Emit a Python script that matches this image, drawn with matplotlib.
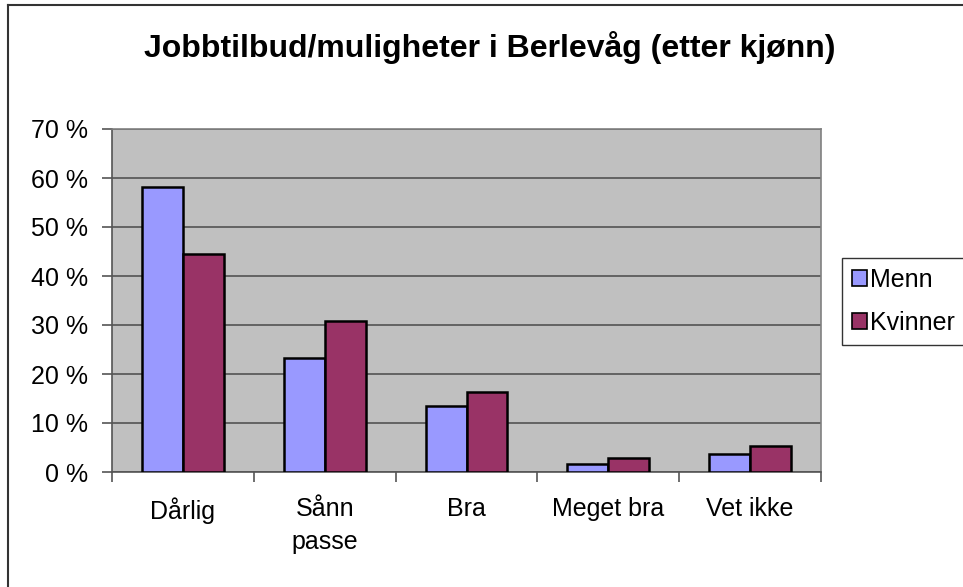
import matplotlib
matplotlib.use("Agg")
import matplotlib.pyplot as plt
from matplotlib.lines import Line2D
from matplotlib.ticker import FuncFormatter
import numpy as np

categories = ["Dårlig", "Sånn\npasse", "Bra", "Meget bra", "Vet ikke"]
menn = [58.2, 23.2, 13.5, 1.6, 3.7]
kvinner = [44.4, 30.9, 16.3, 2.9, 5.3]
series_names = ["Menn", "Kvinner"]
title = "Jobbtilbud/muligheter i Berlevåg (etter kjønn)"

plt.rcParams['font.family'] = ['Liberation Sans', 'DejaVu Sans']

W, H = 963, 587
fig = plt.figure(figsize=(W / 100, H / 100), dpi=100)
fig.patch.set_facecolor('white')

L, R, T, B = 112, 821, 129, 472
ax = fig.add_axes([L / W, 1 - B / H, (R - L) / W, (B - T) / H])
ax.set_facecolor('#C0C0C0')

x = np.arange(len(categories))
bw = 41 / 142
ax.bar(x - bw / 2, menn, width=bw, color='#9999FF', edgecolor='black', linewidth=1.8, label=series_names[0], zorder=3)
ax.bar(x + bw / 2, kvinner, width=bw, color='#993366', edgecolor='black', linewidth=1.8, label=series_names[1], zorder=3)

ax.set_xlim(-0.5, len(categories) - 0.5)
ax.set_ylim(0, 70)
ax.set_yticks(np.arange(0, 71, 10))
ax.yaxis.set_major_formatter(FuncFormatter(lambda v, p: f"{int(v)} %"))
ax.grid(axis='y', color='#4a4a4a', linewidth=1.1, zorder=1)
ax.set_axisbelow(True)

ax.set_xticks(x)
ax.set_xticklabels(categories, fontsize=18, linespacing=1.5)
ax.tick_params(axis='x', length=0, pad=18)
ax.set_xticks(np.arange(-0.5, len(categories)), minor=True)
ax.tick_params(axis='x', which='minor', length=7, width=1.2, color='#555555')
ax.tick_params(axis='y', length=7, width=1.2, color='#555555', labelsize=18, pad=10)

for s in ['top', 'right']:
    ax.spines[s].set_color('#808080')
    ax.spines[s].set_linewidth(1.2)
for s in ['left', 'bottom']:
    ax.spines[s].set_color('#555555')
    ax.spines[s].set_linewidth(1.2)

fig.text(490 / W, 1 - 47 / H, title, ha='center', va='center', fontsize=23, fontweight='bold')

# legend
handles = [plt.Rectangle((0, 0), 1, 1, facecolor='#9999FF', edgecolor='black', linewidth=1.2),
           plt.Rectangle((0, 0), 1, 1, facecolor='#993366', edgecolor='black', linewidth=1.2)]
leg = fig.legend(handles, series_names, loc='upper left',
                 bbox_to_anchor=(842 / W, 1 - 258 / H), fontsize=18,
                 frameon=True, fancybox=False, handlelength=0.6, handleheight=0.6,
                 handletextpad=0.1, labelspacing=0.75, borderpad=0.4, borderaxespad=0)
leg.get_frame().set_edgecolor('black')
leg.get_frame().set_linewidth(1.0)

# chart border
fig.add_artist(Line2D([7.5 / W, 7.5 / W], [0, 1 - 5 / H], color='#333333', linewidth=1.5, transform=fig.transFigure))
fig.add_artist(Line2D([7.5 / W, 1], [1 - 5 / H, 1 - 5 / H], color='#333333', linewidth=1.5, transform=fig.transFigure))

fig.savefig('out.png', dpi=100)
